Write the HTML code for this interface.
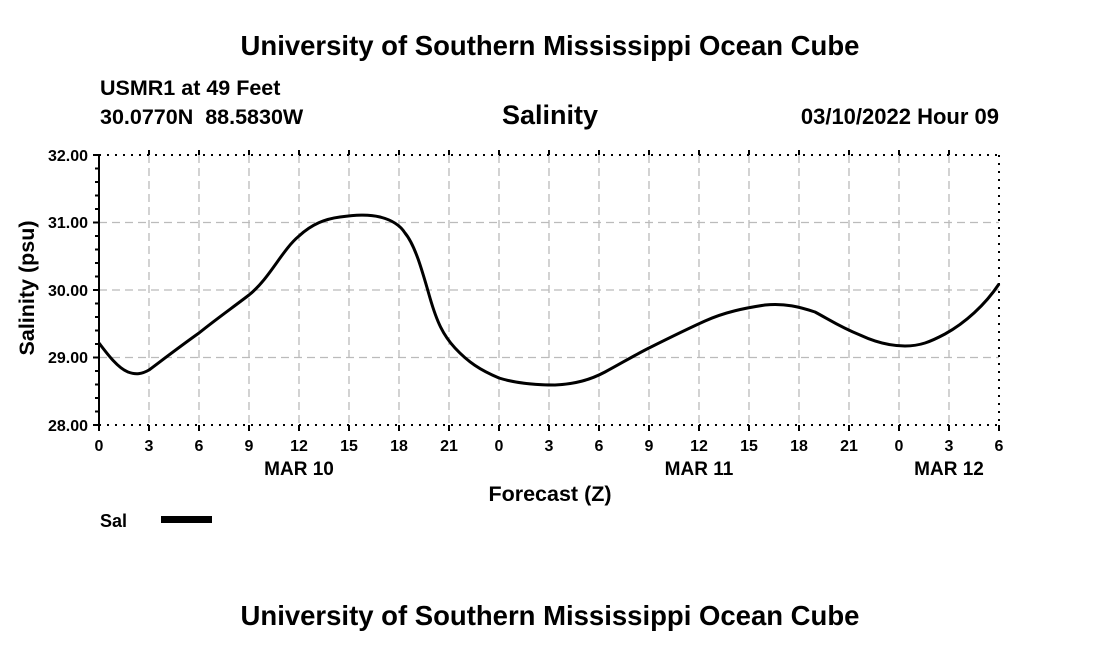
<!DOCTYPE html>
<html><head><style>
body{margin:0;background:#fff;}
svg text{font-family:"Liberation Sans",sans-serif;font-weight:bold;fill:#000;}
</style></head><body>
<svg width="1100" height="650" viewBox="0 0 1100 650" xmlns="http://www.w3.org/2000/svg">
<text x="550" y="55" font-size="27.5" text-anchor="middle">University of Southern Mississippi Ocean Cube</text>
<text x="100" y="95" font-size="21.5">USMR1 at 49 Feet</text>
<text x="100" y="124" font-size="21.5">30.0770N&#160;&#160;88.5830W</text>
<text x="550" y="124" font-size="27" text-anchor="middle">Salinity</text>
<text x="999" y="124" font-size="22" text-anchor="end">03/10/2022 Hour 09</text>
<g stroke="#bbb" stroke-width="1.3" stroke-dasharray="8,5" fill="none">
<path d="M149 155V425M199 155V425M249 155V425M299 155V425M349 155V425M399 155V425M449 155V425M499 155V425M549 155V425M599 155V425M649 155V425M699 155V425M749 155V425M799 155V425M849 155V425M899 155V425M949 155V425"/>
<path d="M99 222.5H999M99 290H999M99 357.5H999"/>
</g>
<g stroke="#000" stroke-width="2" stroke-dasharray="2,6" fill="none">
<path d="M99 155H999M99 425H999M999 155V425"/>
</g>
<g stroke="#000" stroke-width="2" fill="none">
<path d="M99 155V425"/>
<path d="M93 155H99M95 168.5H99M95 182H99M95 195.5H99M95 209H99M93 222.5H99M95 236H99M95 249.5H99M95 263H99M95 276.5H99M93 290H99M95 303.5H99M95 317H99M95 330.5H99M95 344H99M93 357.5H99M95 371H99M95 384.5H99M95 398H99M95 411.5H99M93 425H99"/>
<path d="M99 425v6M149 425v6M199 425v6M249 425v6M299 425v6M349 425v6M399 425v6M449 425v6M499 425v6M549 425v6M599 425v6M649 425v6M699 425v6M749 425v6M799 425v6M849 425v6M899 425v6M949 425v6M999 425v6"/>
<path d="M149 155v-5M199 155v-5M249 155v-5M299 155v-5M349 155v-5M399 155v-5M449 155v-5M499 155v-5M549 155v-5M599 155v-5M649 155v-5M699 155v-5M749 155v-5M799 155v-5M849 155v-5M899 155v-5M949 155v-5"/>
</g>
<g font-size="16" text-anchor="end">
<text x="88" y="161">32.00</text><text x="88" y="228">31.00</text><text x="88" y="296">30.00</text><text x="88" y="363">29.00</text><text x="88" y="431">28.00</text>
</g>
<g font-size="16" text-anchor="middle">
<text x="99" y="451">0</text><text x="149" y="451">3</text><text x="199" y="451">6</text><text x="249" y="451">9</text><text x="299" y="451">12</text><text x="349" y="451">15</text><text x="399" y="451">18</text><text x="449" y="451">21</text><text x="499" y="451">0</text><text x="549" y="451">3</text><text x="599" y="451">6</text><text x="649" y="451">9</text><text x="699" y="451">12</text><text x="749" y="451">15</text><text x="799" y="451">18</text><text x="849" y="451">21</text><text x="899" y="451">0</text><text x="949" y="451">3</text><text x="999" y="451">6</text>
</g>
<g font-size="19" text-anchor="middle">
<text x="299" y="475">MAR 10</text><text x="699" y="475">MAR 11</text><text x="949" y="475">MAR 12</text>
</g>
<text x="550" y="501" font-size="21.5" text-anchor="middle">Forecast (Z)</text>
<text transform="translate(34,288) rotate(-90)" font-size="21.5" text-anchor="middle">Salinity (psu)</text>
<text x="100" y="527" font-size="18">Sal</text>
<rect x="161" y="516" width="51" height="7" fill="#000"/>
<path d="M99 343 C108 355,118 368,128 372 C136 375,142 374,149 370 C165 358,182 345,199 333 C215 320,232 308,249 295 C270 278,282 250,299 236 C312 224,325 219,340 217 C355 215,368 214,380 217 C392 220,400 225,405 233 C415 245,422 270,430 298 C437 322,443 335,455 348 C468 362,480 370,499 378 C515 383,535 385,555 385 C575 384,590 380,605 372 C620 364,635 355,649 348 C665 340,685 330,705 321 C725 312,745 308,765 305 C785 303,800 307,815 312 C830 320,840 327,860 335 C875 342,890 346,905 346 C920 346,930 342,945 334 C965 323,985 305,999 284" stroke="#000" stroke-width="3" fill="none"/>
<text x="550" y="625" font-size="27.5" text-anchor="middle">University of Southern Mississippi Ocean Cube</text>
</svg>
</body></html>
